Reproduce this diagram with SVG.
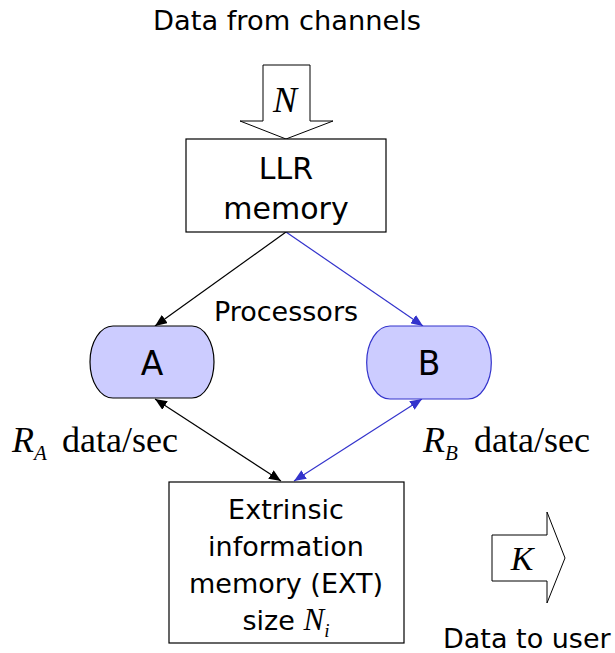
<svg xmlns="http://www.w3.org/2000/svg" width="615" height="653" viewBox="0 0 615 653">
<defs>
<style>
.sans{font-family:"DejaVu Sans",Verdana,sans-serif;fill:#000}
.serif{font-family:"Liberation Serif","Times New Roman",serif;fill:#000}
.box{fill:#fff;stroke:#000;stroke-width:1.2}
.blk{stroke:#000;stroke-width:1.2;fill:none}
.blu{stroke:#3333cc;stroke-width:1.2;fill:none}
</style>
<marker id="mb" viewBox="0 0 12 10" refX="12" refY="5" markerWidth="12" markerHeight="10" markerUnits="userSpaceOnUse" orient="auto-start-reverse"><path d="M0,0 L12,5 L0,10 Z" fill="#000"/></marker>
<marker id="mu" viewBox="0 0 12 10" refX="12" refY="5" markerWidth="12" markerHeight="10" markerUnits="userSpaceOnUse" orient="auto-start-reverse"><path d="M0,0 L12,5 L0,10 Z" fill="#3333cc"/></marker>
</defs>
<rect width="615" height="653" fill="#fff"/>
<text class="sans" x="287" y="30" font-size="27" text-anchor="middle" textLength="268" lengthAdjust="spacingAndGlyphs">Data from channels</text>
<g id="input-arrow">
<polygon points="263,65 310,65 310,121 333,121 286,139 240,121 263,121" fill="#fff" stroke="#000" stroke-width="1"/>
<text class="serif" x="285" y="112" font-size="36" font-style="italic" text-anchor="middle">N</text>
</g>
<g id="connectors">
<line class="blk" x1="286" y1="232" x2="155" y2="326" marker-end="url(#mb)"/>
<line class="blu" x1="286" y1="232" x2="423" y2="326" marker-end="url(#mu)"/>
<line class="blk" x1="155" y1="399" x2="281" y2="481" marker-start="url(#mb)" marker-end="url(#mb)"/>
<line class="blu" x1="422" y1="399" x2="294" y2="481" marker-start="url(#mu)" marker-end="url(#mu)"/>
</g>
<g id="llr">
<rect class="box" x="186" y="139" width="200" height="93"/>
<text class="sans" x="286" y="179" font-size="30" text-anchor="middle">LLR</text>
<text class="sans" x="286" y="219" font-size="30" text-anchor="middle">memory</text>
</g>
<text class="sans" x="286" y="321" font-size="27" text-anchor="middle">Processors</text>
<g id="procA">
<path d="M113,326 H192 A22,36 0 0 1 192,398 H113 A23,36 0 0 1 113,326 Z" fill="#ccccff" stroke="#000" stroke-width="1.2"/>
<text class="sans" x="152" y="375" font-size="33" text-anchor="middle">A</text>
</g>
<g id="procB">
<path d="M390,326 H468 A23,36 0 0 1 468,399 H390 A23,36 0 0 1 390,326 Z" fill="#ccccff" stroke="#3333cc" stroke-width="1.2"/>
<text class="sans" x="429" y="375" font-size="33" text-anchor="middle">B</text>
</g>
<text class="serif" x="12" y="452" font-size="36"><tspan font-style="italic">R</tspan><tspan font-style="italic" font-size="21" dy="8">A</tspan><tspan x="62" dy="-8">data/sec</tspan></text>
<text class="serif" x="423" y="452" font-size="36"><tspan font-style="italic">R</tspan><tspan font-style="italic" font-size="21" dy="8">B</tspan><tspan x="474" dy="-8">data/sec</tspan></text>
<g id="ext">
<rect class="box" x="169" y="482" width="235" height="161"/>
<text class="sans" x="286" y="519" font-size="27" text-anchor="middle">Extrinsic</text>
<text class="sans" x="286" y="556" font-size="27" text-anchor="middle">information</text>
<text class="sans" x="286" y="593" font-size="27" text-anchor="middle">memory (EXT)</text>
<text class="sans" x="286" y="630" font-size="27" text-anchor="middle">size <tspan class="serif" font-style="italic" font-size="31">N</tspan><tspan class="serif" font-style="italic" font-size="19" dy="7">i</tspan></text>
</g>
<g id="output-arrow">
<polygon points="492,535 547,535 547,512 565,558 547,603 547,581 492,581" fill="#fff" stroke="#000" stroke-width="1"/>
<text class="serif" x="522" y="570" font-size="34" font-style="italic" text-anchor="middle">K</text>
</g>
<text class="sans" x="443" y="648" font-size="27">Data to user</text>
</svg>
